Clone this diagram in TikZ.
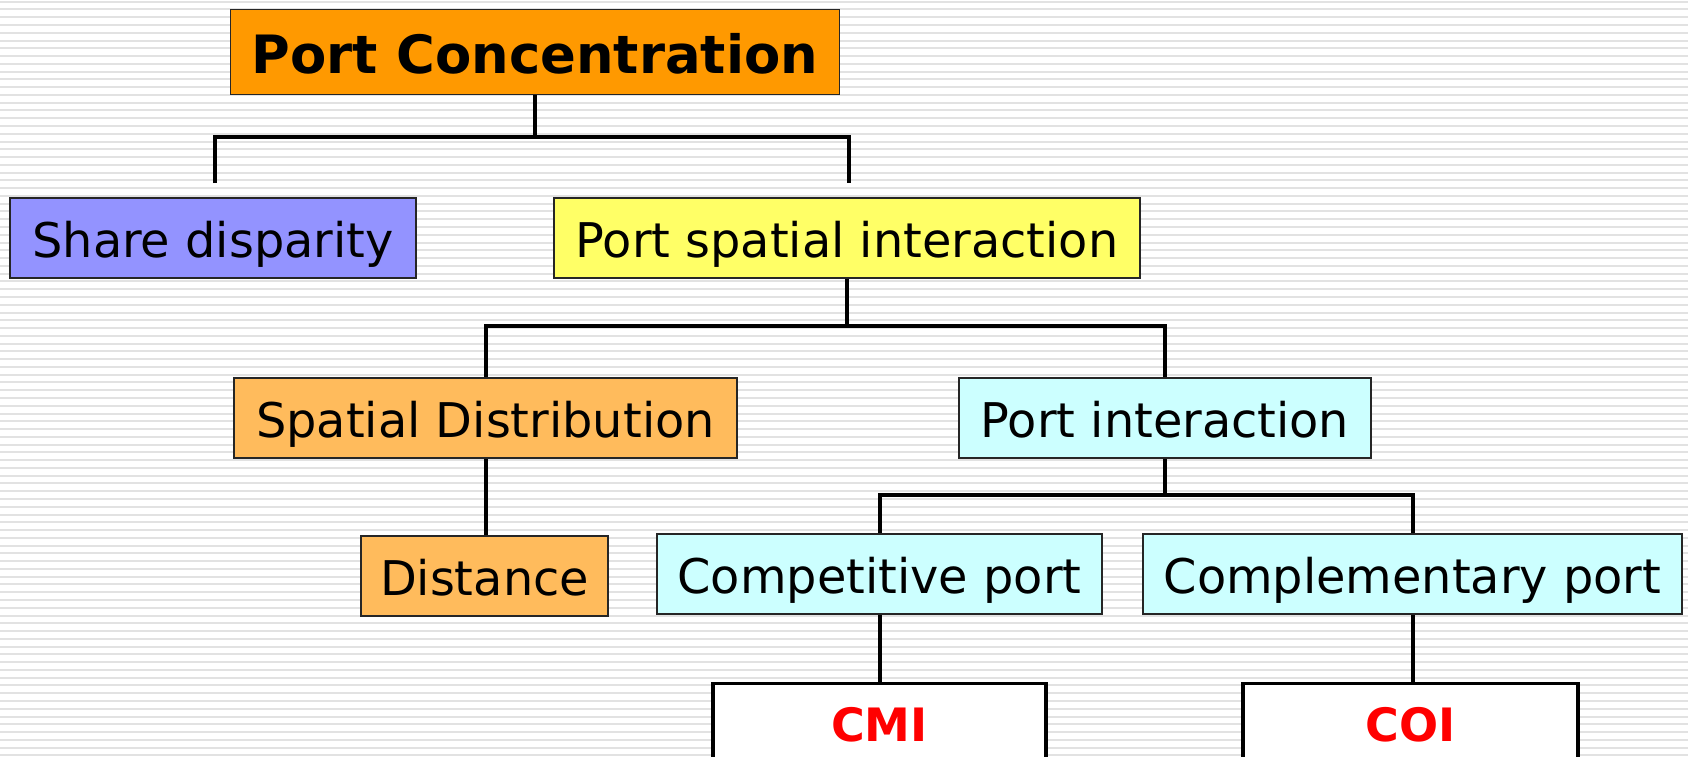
\documentclass[tikz,border=0pt]{standalone}
\usepackage{fontspec}
\setmainfont{DejaVu Sans}
\definecolor{pcorange}{HTML}{FF9900}
\definecolor{sdblue}{HTML}{9393FF}
\definecolor{psiyellow}{HTML}{FFFF66}
\definecolor{lightorange}{HTML}{FFBB5C}
\definecolor{lightcyan}{HTML}{CCFFFF}
\definecolor{stripegray}{HTML}{E2E2E2}
\definecolor{cmired}{HTML}{FF0000}
\begin{document}
\begin{tikzpicture}[x=0.5pt,y=-0.5pt,
  stripe/.style={draw=stripegray,line width=1pt},
  box/.style={draw=black!85,line width=0.8pt,inner sep=0pt,text=black,
    text height=19.3pt,text depth=0pt,
    font=\fontsize{23.9}{28}\selectfont},
  resbox/.style={draw=black,line width=1.7pt,inner sep=0pt,fill=white,
    text height=18pt,text depth=0pt,
    text=cmired,font=\bfseries\fontsize{23}{27}\selectfont},
  conn/.style={draw=black,line width=2pt,line join=miter}]
\clip (0,0) rectangle (1688,756);
\fill[white] (0,0) rectangle (1688,756);
\foreach \i in {0,...,97} \draw[stripe] (0,{1.7+7.77*\i}) -- (1688,{1.7+7.77*\i});

% nodes
\node[box,fill=pcorange,minimum width=304.5pt,minimum height=42.5pt,
  text height=21.5pt,font=\bfseries\fontsize{26.4}{30}\selectfont] (pc) at (535,52) {Port Concentration};
\node[box,fill=sdblue,minimum width=203pt,minimum height=40pt] (sd) at (213,238) {Share disparity};
\node[box,fill=psiyellow,minimum width=293pt,minimum height=40pt] (psi) at (847,238) {Port spatial interaction};
\node[box,fill=lightorange,minimum width=251.5pt,minimum height=40pt] (spd) at (485.5,418) {Spatial Distribution};
\node[box,fill=lightcyan,minimum width=206pt,minimum height=40pt] (pi) at (1165,418) {Port interaction};
\node[box,fill=lightorange,minimum width=123.5pt,minimum height=40pt] (dist) at (484.5,576) {Distance};
\node[box,fill=lightcyan,minimum width=222.5pt,minimum height=40pt] (comp) at (879.5,574) {Competitive port};
\node[box,fill=lightcyan,minimum width=269.5pt,minimum height=40pt] (compl) at (1412.5,574) {Complementary port};
\node[resbox,minimum width=166.5pt,minimum height=40pt,anchor=north] (cmi) at (879.5,682) {CMI};
\node[resbox,minimum width=167.5pt,minimum height=40pt,anchor=north] (coi) at (1410.5,682) {COI};

% connectors
\coordinate (sdtop) at (215,183);
\coordinate (psitop) at (849,183);
\coordinate (tap1) at (535,137);
\draw[conn] (pc.south) -- (tap1);
\draw[conn] (sdtop) |- (tap1) -| (psitop);

\coordinate (tap2) at (847,326);
\draw[conn] (psi.south) -- (tap2);
\draw[conn] (spd.north) |- (tap2) -| (pi.north);

\draw[conn] (spd.south) -- (spd.south |- dist.north);

\coordinate (tap3) at (1165,495);
\draw[conn] (pi.south) -- (tap3);
\draw[conn] (comp.north) |- (tap3) -| (compl.north);

\draw[conn] (comp.south) -- (cmi.north);
\draw[conn] (compl.south) -- (compl.south |- coi.north);
\end{tikzpicture}
\end{document}
